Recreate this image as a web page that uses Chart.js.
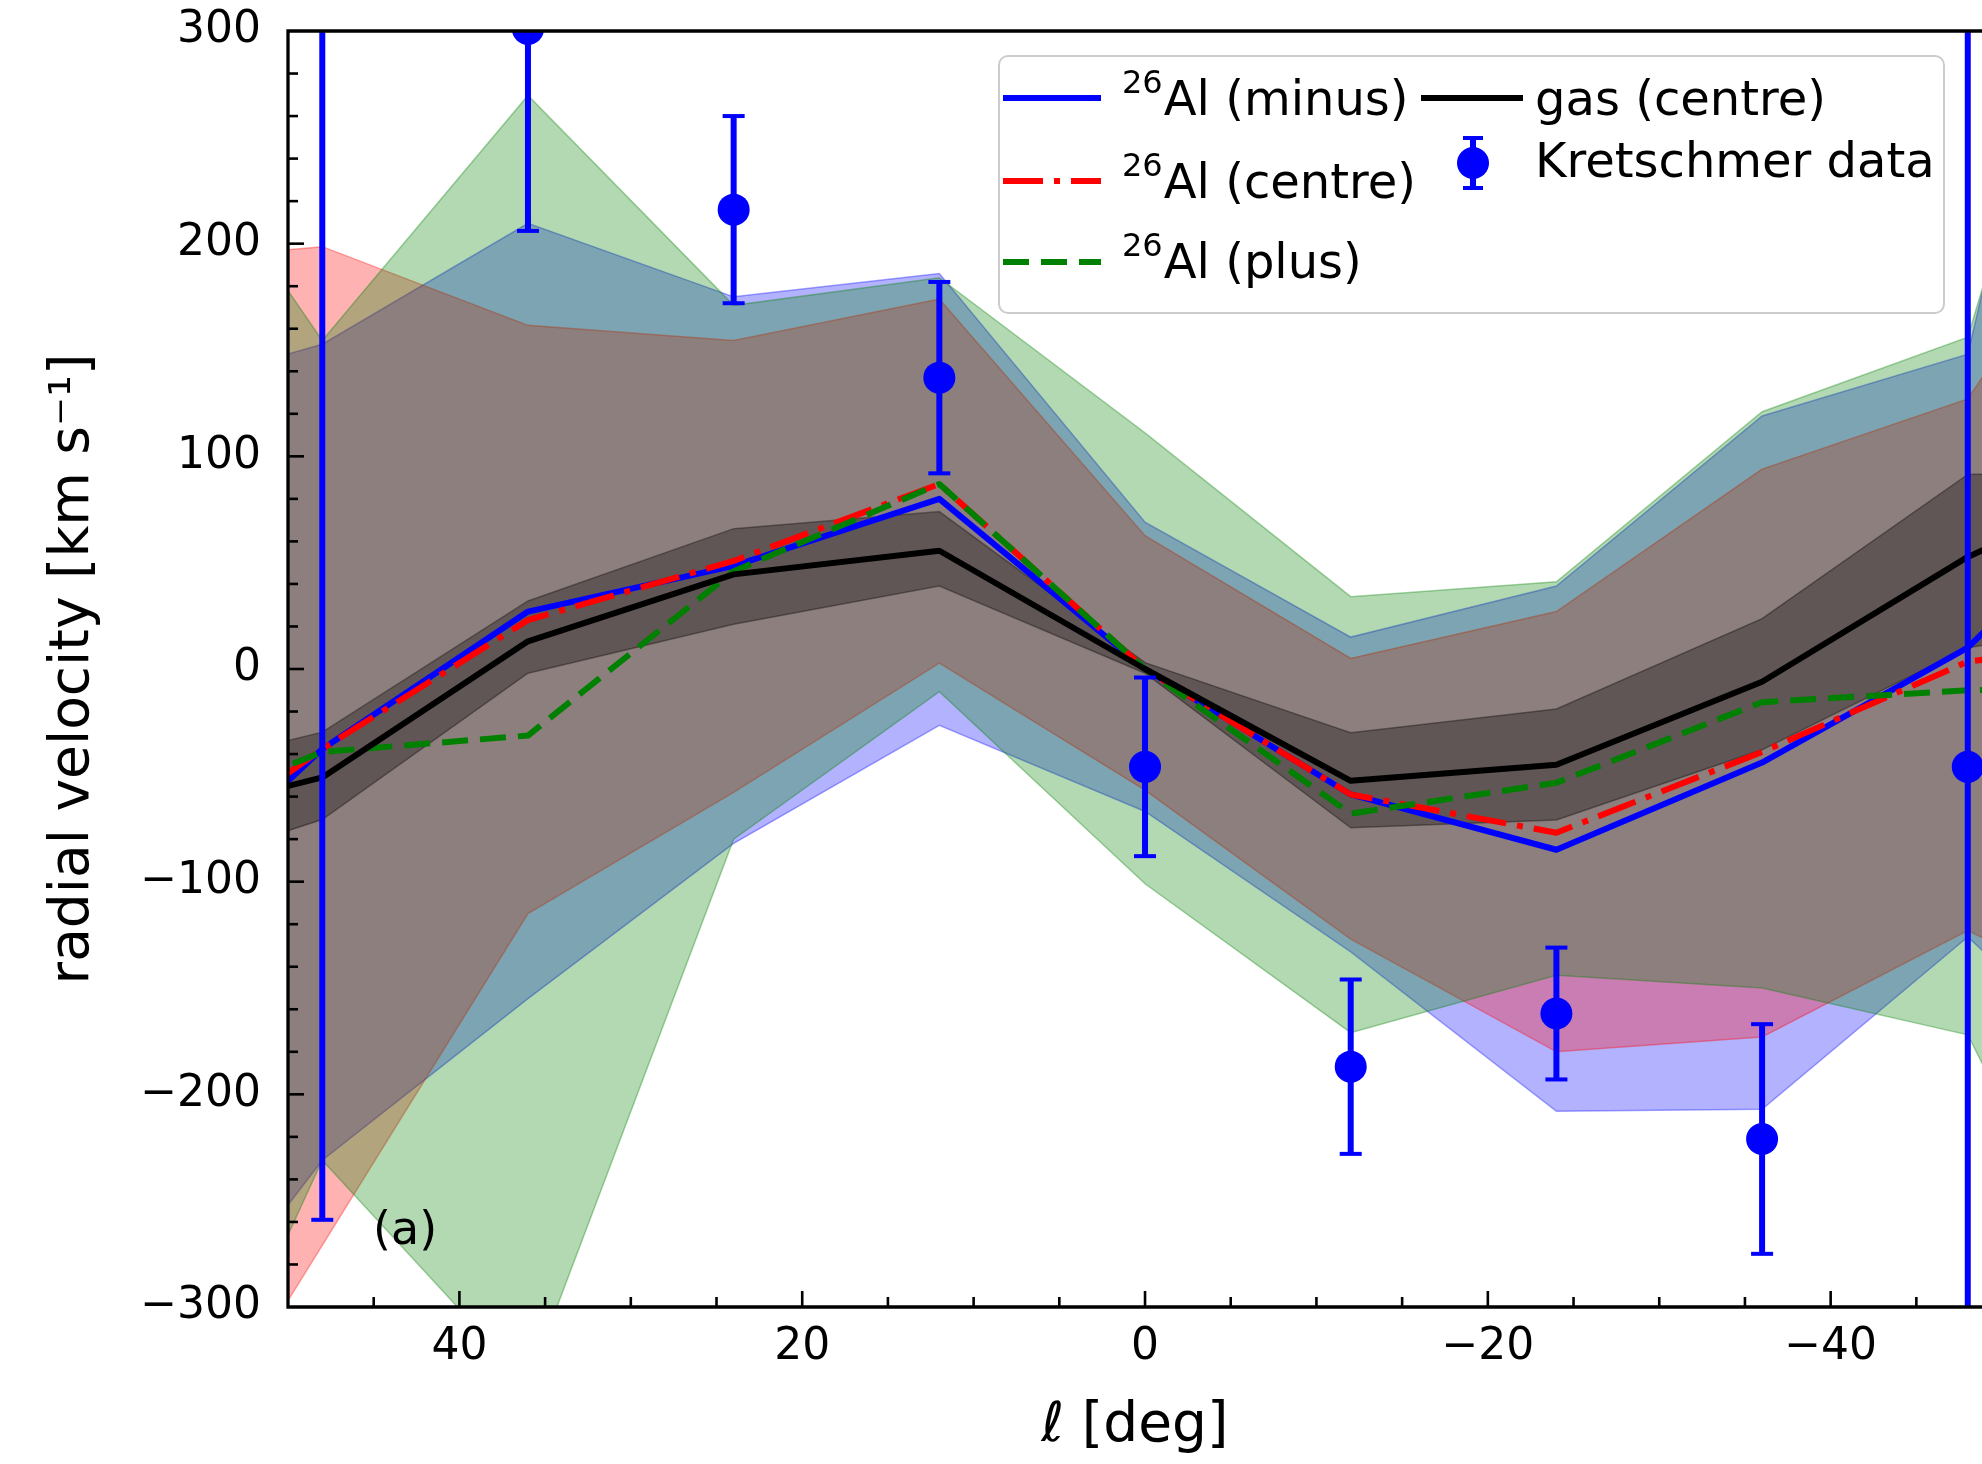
<!DOCTYPE html>
<html lang="en">
<head>
<meta charset="UTF-8">
<title>Radial velocity vs longitude</title>
<script src="https://cdn.jsdelivr.net/npm/chart.js"></script>
<style>
  html, body { margin: 0; padding: 0; background: #fff; overflow: hidden; }
</style>
</head>
<body>
<canvas id="velocityChart" width="1982" height="1464"></canvas>
<script>
// model samples, galactic longitude [deg]
const longitudes = [60, 48, 36, 24, 12, 0, -12, -24, -36, -48, -60];

// 26Al (minus)
const alMinus     = [-128, -37.6, 27, 48.5, 80, 0, -59, -85, -44, 10, 105];
const alMinusLow  = [-357, -231, -155, -82, -26.5, -67, -133, -208, -207, -126, -216];
const alMinusHigh = [125, 152.7, 209.6, 175, 186, 69, 15, 39, 119, 148, 560];

// 26Al (centre)
const alCentre     = [-106, -37.6, 23, 50.8, 87, 0, -59, -77, -39, 3.5, 15];
const alCentreLow  = [-427, -271, -115, -58, 2.8, -57, -127, -180, -173, -123, -170];
const alCentreHigh = [190, 198.6, 161.6, 154.5, 174, 62.7, 5, 27, 94, 127, 271];

// 26Al (plus)
const alPlus     = [-78, -39, -31.3, 46, 87, 0, -68, -53.5, -15.6, -10, -8];
const alPlusLow  = [-442, -231, -336, -80, -10.7, -101, -171, -144, -150, -172, -364];
const alPlusHigh = [295, 154.5, 269.7, 171, 184, 111, 34, 41, 121, 156, 480];

// gas (centre)
const gas     = [-75, -51, 13, 44.5, 55.6, 0, -52.6, -45, -6, 52.7, 96];
const gasLow  = [-102, -70.8, -2, 21, 39, -2, -74.7, -71, -38, 10, 25];
const gasHigh = [-53, -29.7, 32, 66, 74, 3, -30, -18.8, 23.7, 91.5, 95];

// Kretschmer data
const kretLon = [48, 36, 24, 12, 0, -12, -24, -36, -48];
const kretVel = [350, 301, 216, 137, -46, -187, -162, -221, -46];
const kretErr = [609, 95, 44, 45, 42, 41, 31, 54, 400];

const xTicks = [40, 20, 0, -20, -40];
const yTicks = [-300, -200, -100, 0, 100, 200, 300];
const X_MINOR = 5, Y_MINOR = 20;

const fmt = v => v < 0 ? '\u2212' + Math.abs(v) : String(v);
const pts = ys => longitudes.map((x, i) => ({x: x, y: ys[i]}));

function band(hi, lo, fillColor, edgeColor, order) {
    return [
        { data: pts(hi), fill: '+1', backgroundColor: fillColor, borderColor: edgeColor,
          borderWidth: 1.5, pointRadius: 0, order: order, clip: 0 },
        { data: pts(lo), fill: false, borderColor: edgeColor,
          borderWidth: 1.5, pointRadius: 0, order: order, clip: 0 }
    ];
}

function curve(ys, color, dash, order) {
    return { data: pts(ys), fill: false, borderColor: color, borderWidth: 6, borderDash: dash,
             borderJoinStyle: 'round', pointRadius: 0, order: order, clip: 0 };
}

function seg(ctx, x0, y0, x1, y1) {
    ctx.beginPath();
    ctx.moveTo(x0, y0);
    ctx.lineTo(x1, y1);
    ctx.stroke();
}

// error bars, spines, inward ticks, panel label and legend
const decorations = {
    id: 'decorations',
    afterDatasetsDraw(chart) {
        const {ctx, chartArea: a, scales: {x, y}} = chart;

        ctx.save();
        ctx.beginPath();
        ctx.rect(a.left, a.top, a.right - a.left, a.bottom - a.top);
        ctx.clip();
        ctx.strokeStyle = '#0000ff';
        kretLon.forEach((l, i) => {
            const px = x.getPixelForValue(l);
            const lo = y.getPixelForValue(kretVel[i] - kretErr[i]);
            const hi = y.getPixelForValue(kretVel[i] + kretErr[i]);
            ctx.lineWidth = 6;
            seg(ctx, px, lo, px, hi);
            ctx.lineWidth = 4;
            seg(ctx, px - 11, lo, px + 11, lo);
            seg(ctx, px - 11, hi, px + 11, hi);
        });
        ctx.restore();

        ctx.save();
        ctx.strokeStyle = '#000';
        ctx.lineWidth = 3.3;
        ctx.beginPath();
        ctx.moveTo(a.right, a.top);
        ctx.lineTo(a.left, a.top);
        ctx.lineTo(a.left, a.bottom);
        ctx.lineTo(a.right, a.bottom);
        ctx.stroke();

        ctx.lineWidth = 2.6;
        for (let v = y.min + Y_MINOR; v < y.max; v += Y_MINOR) {
            const py = y.getPixelForValue(v);
            const len = yTicks.includes(v) ? 16 : 10;
            seg(ctx, a.left, py, a.left + len, py);
        }
        for (let v = Math.ceil(x.min / X_MINOR) * X_MINOR; v < x.max; v += X_MINOR) {
            const px = x.getPixelForValue(v);
            const len = xTicks.includes(v) ? 16 : 10;
            seg(ctx, px, a.bottom, px, a.bottom - len);
        }

        ctx.fillStyle = '#000';
        ctx.font = "46px 'DejaVu Sans'";
        ctx.textBaseline = 'alphabetic';
        ctx.fillText('(a)', 373, 1244);
        ctx.restore();
    },
    afterDraw(chart) {
        const ctx = chart.ctx;
        ctx.save();

        // frame
        ctx.beginPath();
        ctx.roundRect(999, 56, 945, 257, 9);
        ctx.fillStyle = 'rgba(255,255,255,0.8)';
        ctx.fill();
        ctx.strokeStyle = '#cccccc';
        ctx.lineWidth = 2;
        ctx.stroke();

        const col1 = [
            {label: 'Al (minus)', color: '#0000ff', dash: [], y: 98, base: 115},
            {label: 'Al (centre)', color: '#ff0000', dash: [40, 11, 6, 11], y: 181, base: 198},
            {label: 'Al (plus)', color: '#008000', dash: [26, 12], y: 262, base: 278}
        ];
        ctx.lineWidth = 6;
        ctx.fillStyle = '#000';
        ctx.textBaseline = 'alphabetic';
        col1.forEach(item => {
            ctx.strokeStyle = item.color;
            ctx.setLineDash(item.dash);
            seg(ctx, 1003, item.y, 1101, item.y);
            ctx.setLineDash([]);
            ctx.font = "32px 'DejaVu Sans'";
            ctx.fillText('26', 1122, item.base - 22);
            const w = ctx.measureText('26').width;
            ctx.font = "48px 'DejaVu Sans'";
            ctx.fillText(item.label, 1122 + w + 1, item.base);
        });

        // gas (centre)
        ctx.strokeStyle = '#000';
        seg(ctx, 1421, 98, 1523, 98);
        ctx.fillText('gas (centre)', 1535, 115);

        // Kretschmer data
        ctx.strokeStyle = '#0000ff';
        ctx.fillStyle = '#0000ff';
        ctx.lineWidth = 6;
        seg(ctx, 1473, 138, 1473, 188);
        ctx.lineWidth = 4;
        seg(ctx, 1463, 138, 1483, 138);
        seg(ctx, 1463, 188, 1483, 188);
        ctx.beginPath();
        ctx.arc(1473, 163, 16, 0, Math.PI * 2);
        ctx.fill();
        ctx.fillStyle = '#000';
        ctx.fillText('Kretschmer data', 1535, 177);

        ctx.restore();
    }
};

Chart.defaults.font.family = "'DejaVu Sans', sans-serif";
Chart.defaults.color = '#000';

new Chart(document.getElementById('velocityChart').getContext('2d'), {
    type: 'line',
    data: {
        datasets: [
            ...band(alMinusHigh, alMinusLow, 'rgba(0,0,255,0.3)', 'rgba(0,0,255,0.35)', 9),
            ...band(alCentreHigh, alCentreLow, 'rgba(255,0,0,0.3)', 'rgba(255,0,0,0.35)', 8),
            ...band(alPlusHigh, alPlusLow, 'rgba(0,128,0,0.3)', 'rgba(0,128,0,0.35)', 7),
            ...band(gasHigh, gasLow, 'rgba(0,0,0,0.32)', 'rgba(0,0,0,0.35)', 6),
            curve(alMinus, '#0000ff', [], 5),
            curve(alCentre, '#ff0000', [40, 11, 6, 11], 4),
            curve(alPlus, '#008000', [26, 12], 3),
            curve(gas, '#000000', [], 2),
            {
                type: 'scatter',
                data: kretLon.map((l, i) => ({x: l, y: kretVel[i]})),
                backgroundColor: '#0000ff',
                borderWidth: 0,
                pointRadius: 16,
                order: 1,
                clip: 0
            }
        ]
    },
    options: {
        responsive: false,
        animation: false,
        events: [],
        layout: { autoPadding: false, padding: { top: 31, left: 0, right: 0, bottom: 0 } },
        plugins: { legend: { display: false }, tooltip: { enabled: false } },
        scales: {
            x: {
                type: 'linear',
                reverse: true,
                min: -48.83,
                max: 50,
                afterBuildTicks: s => { s.ticks = xTicks.map(v => ({value: v})); },
                afterFit: s => { s.height = 157; s.paddingLeft = 0; s.paddingRight = 0; },
                grid: { display: false, drawTicks: false },
                border: { display: false },
                ticks: { autoSkip: false, maxRotation: 0, padding: 14, font: { size: 44 },
                         callback: v => fmt(v) },
                title: { display: true, text: '\u2113 [deg]', font: { size: 55 },
                         padding: { top: 0, bottom: 4 } }
            },
            y: {
                min: -300,
                max: 300,
                afterBuildTicks: s => { s.ticks = yTicks.map(v => ({value: v})); },
                afterFit: s => { s.width = 288; s.paddingTop = 0; s.paddingBottom = 0; },
                grid: { display: false, drawTicks: false },
                border: { display: false },
                ticks: { autoSkip: false, padding: 27, font: { size: 44 },
                         callback: v => fmt(v) },
                title: { display: true, text: 'radial velocity [km s\u207B\u00B9]', font: { size: 55 },
                         padding: { top: 41, bottom: 0 } }
            }
        }
    },
    plugins: [decorations]
});
</script>
</body>
</html>
